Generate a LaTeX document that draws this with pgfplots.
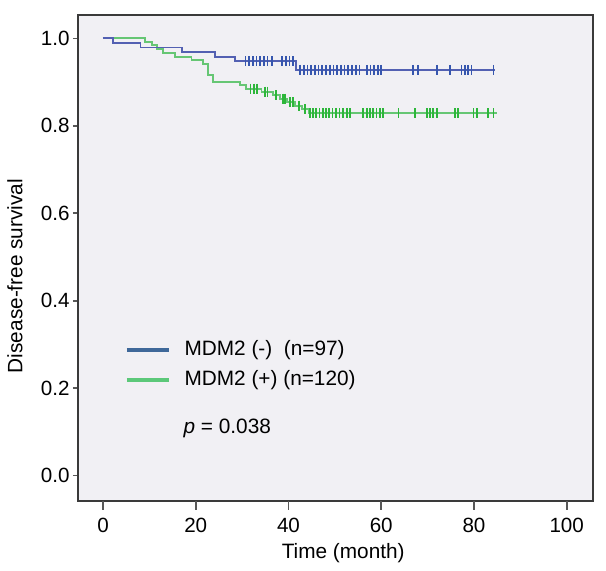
\documentclass[border=0pt]{standalone}
\usepackage{fontspec}
\setmainfont{Liberation Sans}
\usepackage{pgfplots}
\pgfplotsset{compat=1.18}
\definecolor{bgc}{HTML}{F1F0F4}
\definecolor{axisc}{HTML}{3A3A3A}
\definecolor{blueline}{HTML}{5360B2}
\definecolor{bluemark}{HTML}{3656AE}
\definecolor{legblue}{HTML}{3F6899}
\definecolor{greenline}{HTML}{66C674}
\definecolor{greenmark}{HTML}{2DB63A}
\definecolor{leggreen}{HTML}{5CC879}
\begin{document}
\begin{tikzpicture}
\begin{axis}[
  scale only axis, width=257.5pt, height=243pt,
  xmin=-5.39, xmax=105.67, ymin=-0.0579, ymax=1.0535,
  axis background/.style={fill=bgc},
  axis line style={draw=axisc, line width=1pt},
  xtick=\empty, ytick={0,0.2,0.4,0.6,0.8,1},
  extra x ticks={0,20,40,60,80,100},
  extra x tick style={grid=none, major tick length=4.5pt},
  yticklabel style={inner xsep=1.5pt, /pgf/number format/fixed, /pgf/number format/fixed zerofill, /pgf/number format/precision=1},
  /pgf/number format/assume math mode=true,
  tick align=outside, tick pos=left, major tick length=2.5pt,
  tick style={draw=axisc!85, line width=0.8pt},
  ticklabel style={font=\fontsize{10.3}{12}\selectfont},
  xticklabel style={yshift=-0.3pt},
  xlabel={Time (month)}, ylabel={Disease-free survival},
  label style={font=\fontsize{10.4}{12}\selectfont},
  xlabel style={at={(axis description cs:0.515,0)}, anchor=north, yshift=-17.5pt},
  ylabel style={at={(axis description cs:0,0.463)}, anchor=center, yshift=31.5pt},
  legend image code/.code={\draw[#1] (0pt,0pt) -- (21pt,0pt);},
  legend cell align=left,
  legend style={at={(axis cs:4.74,0.253)}, anchor=west, draw=none, fill=none,
    inner sep=0pt, row sep=5pt, column sep=7pt,
    nodes={inner sep=0pt, text height=7.5pt, text depth=2.5pt},
    font=\fontsize{10.4}{12}\selectfont},
]
\addlegendimage{legblue, line width=1.6pt}
\addlegendentry{MDM2 (-)\ \ (n=97)}
\addlegendimage{leggreen, line width=1.6pt}
\addlegendentry{MDM2 (+) (n=120)}

\addplot[const plot, greenline, line width=0.9pt, forget plot] coordinates {
(0,1.000)(9.1,0.992)(10.5,0.984)(11.6,0.975)(13.0,0.967)(15.5,0.958)(19.1,0.950)
(21.6,0.942)(22.7,0.917)(23.8,0.901)(29.6,0.893)(30.8,0.885)(34.2,0.878)(36.7,0.870)
(38.2,0.862)(39.6,0.854)(41.4,0.846)(42.9,0.838)(44.3,0.829)(84.9,0.829)};

\addplot[const plot, blueline, line width=0.9pt, forget plot] coordinates {
(0,1.000)(2.1,0.990)(8.1,0.979)(17.0,0.969)(24.2,0.958)(28.4,0.948)(41.6,0.928)(84.6,0.928)};

\addplot[only marks, mark=|, mark size=2.5pt, greenmark, mark options={line width=0.85pt}, forget plot] coordinates {
(31.8,0.885)(32.5,0.885)(33.2,0.885)
(34.9,0.878)(35.5,0.878)
(37.3,0.870)
(38.8,0.862)(39.3,0.862)
(40.3,0.854)(40.9,0.854)
(42.2,0.846)
(43.5,0.838)
(44.6,0.829)(45.3,0.829)(46.0,0.829)(46.7,0.829)(47.4,0.829)(48.1,0.829)(48.8,0.829)
(49.5,0.829)(50.3,0.829)(51.0,0.829)(51.8,0.829)(52.6,0.829)(53.3,0.829)(56.1,0.829)
(56.9,0.829)(57.6,0.829)(58.3,0.829)(59.0,0.829)(59.7,0.829)(60.4,0.829)(63.7,0.829)
(67.3,0.829)(69.8,0.829)(70.5,0.829)(71.2,0.829)(72.0,0.829)(75.9,0.829)(76.6,0.829)
(79.9,0.829)(80.6,0.829)(83.1,0.829)(84.2,0.829)};

\addplot[only marks, mark=|, mark size=2.5pt, bluemark, mark options={line width=0.85pt}, forget plot] coordinates {
(30.7,0.948)(31.5,0.948)(32.3,0.948)(33.1,0.948)(33.9,0.948)(34.7,0.948)(35.5,0.948)
(36.5,0.948)(38.6,0.948)(39.4,0.948)(40.2,0.948)(41.0,0.948)
(42.5,0.928)(43.3,0.928)(44.1,0.928)(44.9,0.928)(45.7,0.928)(46.5,0.928)(47.3,0.928)
(48.1,0.928)(48.9,0.928)(49.7,0.928)(50.5,0.928)(51.3,0.928)(52.1,0.928)(52.9,0.928)
(53.7,0.928)(54.5,0.928)(55.3,0.928)(56.9,0.928)(57.7,0.928)(58.5,0.928)(59.3,0.928)
(60.0,0.928)(66.9,0.928)(68.0,0.928)(72.0,0.928)(74.8,0.928)(77.3,0.928)(78.0,0.928)
(78.7,0.928)(79.5,0.928)(84.2,0.928)};

\node[anchor=west, inner sep=0pt, font=\fontsize{10.4}{12}\selectfont] at (axis cs:17.3,0.109) {\textit{p} = 0.038};
\end{axis}
\pgfresetboundingbox
\useasboundingbox (-39pt,-35pt) rectangle (264pt,250.5pt);
\end{tikzpicture}
\end{document}
